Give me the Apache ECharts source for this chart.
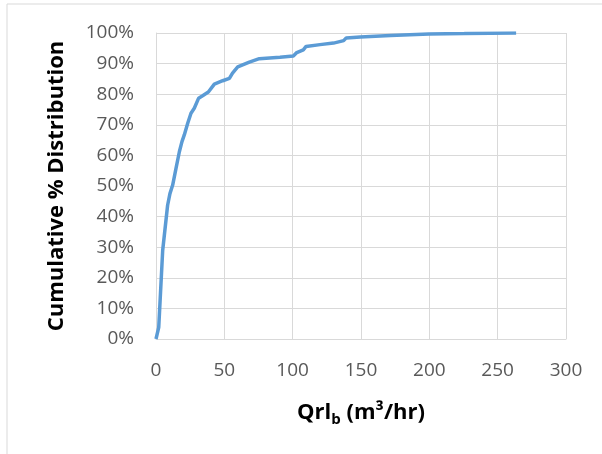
<!DOCTYPE html>
<html>
<head>
<meta charset="utf-8">
<script src="https://cdn.jsdelivr.net/npm/echarts@6/dist/echarts.min.js"></script>
<style>
  html, body { margin: 0; padding: 0; background: #fff; }
  #chart { width: 602px; height: 454px; }
</style>
</head>
<body>
<div id="chart"></div>
<script>
// Flow rate (m3/hr) and cumulative share of observations (%)
var qValues = [0, 0.5, 2, 4.9, 8.5, 10.2, 12.2, 14.6, 17.1, 19, 20.7, 23.2, 25.6, 28, 31.2, 34.1, 38.3, 42.7, 48.8, 53.7, 56, 59.8, 68.3, 75.6, 90.7, 100.5, 103, 107.8, 109.8, 120, 129.9, 137.3, 139.2, 149.5, 171.6, 199.8, 225.5, 263.5];
var cumPct  = [0, 0.5, 3.8, 29, 43.7, 47.5, 50.3, 55.7, 61.2, 64.5, 66.7, 70.5, 73.8, 75.4, 78.7, 79.5, 80.7, 83.3, 84.4, 85.2, 86.9, 88.9, 90.5, 91.6, 92.1, 92.5, 93.6, 94.5, 95.6, 96.2, 96.7, 97.5, 98.4, 98.7, 99.2, 99.7, 99.8, 100];
var xTicks = [0, 50, 100, 150, 200, 250, 300];

var points = qValues.map(function (q, i) { return [q, cumPct[i]]; });

var font = 'Open Sans';
var chart = echarts.init(document.getElementById('chart'), null, { renderer: 'canvas' });
chart.setOption({
  animation: false,
  backgroundColor: '#ffffff',
  graphic: [{
    type: 'rect',
    shape: { x: 7, y: 4, width: 620, height: 470 },
    style: { fill: 'none', stroke: '#D9D9D9', lineWidth: 1 },
    silent: true
  }],
  grid: { left: 156, right: 36, top: 33, bottom: 115 },
  xAxis: {
    type: 'value',
    min: xTicks[0],
    max: xTicks[xTicks.length - 1],
    interval: 50,
    axisLine: { show: true, lineStyle: { color: '#D9D9D9', width: 1 } },
    axisTick: { show: false },
    splitLine: { show: true, lineStyle: { color: '#D9D9D9', width: 1 } },
    axisLabel: { color: '#595959', fontFamily: font, fontSize: 19, margin: 22 },
    name: '{a|Qrl}{s|b}{a| (m³/hr)}',
    nameLocation: 'middle',
    nameGap: 60,
    nameTextStyle: {
      rich: {
        a: { fontFamily: font, fontSize: 22, fontWeight: 'bold', color: '#000', lineHeight: 28 },
        s: { fontFamily: font, fontSize: 15, fontWeight: 'bold', color: '#000', lineHeight: 10, verticalAlign: 'bottom' }
      }
    }
  },
  yAxis: {
    type: 'value',
    min: 0,
    max: 100,
    interval: 10,
    axisLine: { show: true, lineStyle: { color: '#D9D9D9', width: 1 } },
    axisTick: { show: false },
    splitLine: { show: true, lineStyle: { color: '#D9D9D9', width: 1 } },
    axisLabel: { color: '#595959', fontFamily: font, fontSize: 19, margin: 22, formatter: '{value}%' },
    name: 'Cumulative % Distribution',
    nameLocation: 'middle',
    nameGap: 88,
    nameTextStyle: { fontFamily: font, fontSize: 22, fontWeight: 'bold', color: '#000' }
  },
  series: [{
    type: 'line',
    data: points,
    showSymbol: false,
    lineStyle: { color: '#5B9BD5', width: 3.5 },
    itemStyle: { color: '#5B9BD5' }
  }]
});
</script>
</body>
</html>
